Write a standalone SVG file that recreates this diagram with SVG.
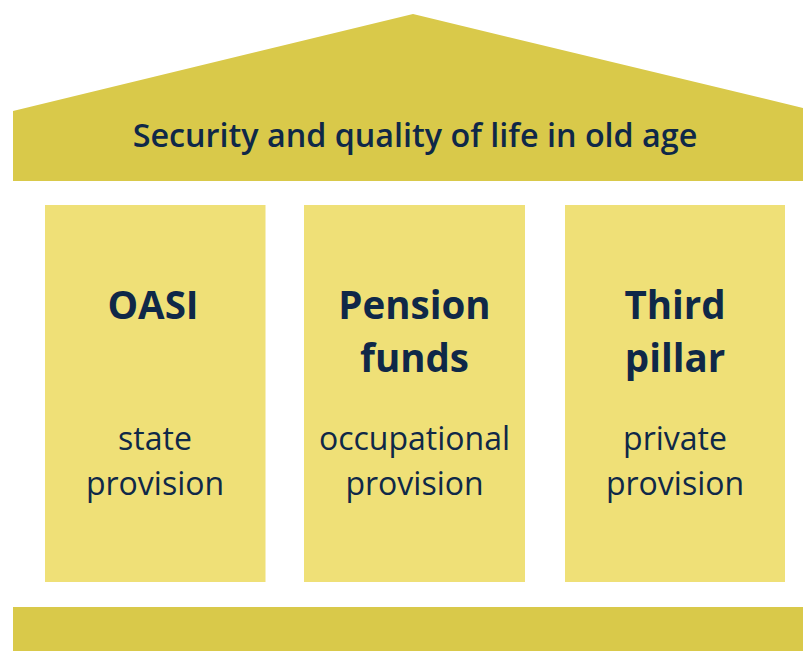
<svg xmlns="http://www.w3.org/2000/svg" width="803" height="651" viewBox="0 0 803 651">
  <style>
    .roof { fill: #D9C94A; }
    .pillar { fill: #EFE077; }
    .base { fill: #D9C94A; }
    text { font-family: "Open Sans", "Noto Sans", sans-serif; fill: #0F2848; text-anchor: middle; }
    .title { font-size: 32.3px; font-weight: 600; }
    .head { font-size: 38.5px; font-weight: 700; }
    .sub { font-size: 32px; font-weight: 400; }
  </style>
  <g id="roof">
    <polygon class="roof" points="13,111 413,14 803,108 803,181 13,181"/>
    <text class="title" x="415" y="147">Security and quality of life in old age</text>
  </g>
  <g id="pillar-oasi">
    <rect class="pillar" x="45" y="205" width="220.5" height="377"/>
    <text class="head" x="153" y="319">OASI</text>
    <text class="sub" x="155" y="450">state</text>
    <text class="sub" x="155" y="495">provision</text>
  </g>
  <g id="pillar-pension-funds">
    <rect class="pillar" x="304" y="205" width="221" height="377"/>
    <text class="head" x="414.5" y="319">Pension</text>
    <text class="head" x="414.5" y="372">funds</text>
    <text class="sub" x="414.5" y="450">occupational</text>
    <text class="sub" x="414.5" y="495">provision</text>
  </g>
  <g id="pillar-third">
    <rect class="pillar" x="565" y="205" width="220" height="377"/>
    <text class="head" x="675" y="319">Third</text>
    <text class="head" x="675" y="372">pillar</text>
    <text class="sub" x="675" y="450">private</text>
    <text class="sub" x="675" y="495">provision</text>
  </g>
  <g id="base">
    <rect class="base" x="13" y="607" width="790" height="44"/>
  </g>
  <g id="connectors"></g>
</svg>
